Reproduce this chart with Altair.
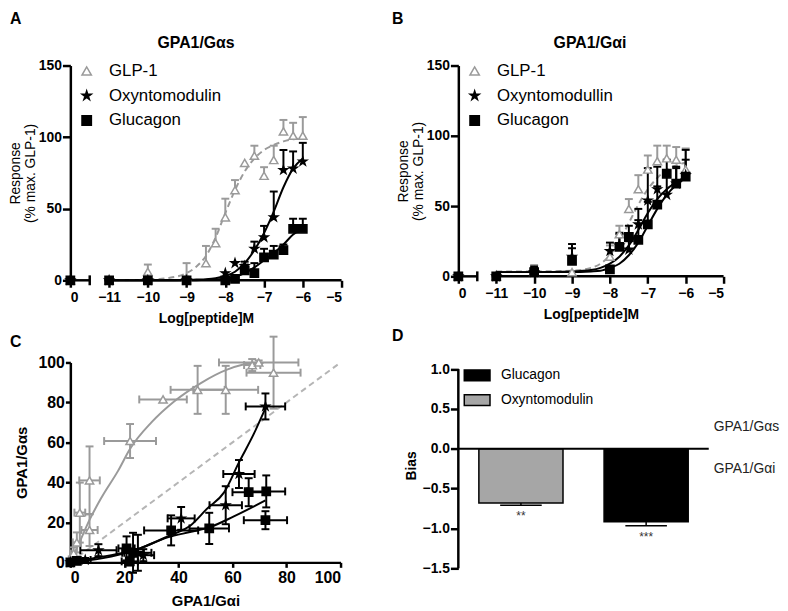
import altair as alt
import pandas as pd

FONT = "Liberation Sans"
LGRAY = "#9a9a9a"
STAR = "M0,-1L0.2245,-0.309L0.951,-0.309L0.363,0.118L0.588,0.809L0,0.382L-0.588,0.809L-0.363,0.118L-0.951,-0.309L-0.2245,-0.309Z"
RECT = "M-1,-0.42H1V0.42H-1Z"

# ---------------- Panel A : GPA1/Gαs (x = log[peptide], 0 = vehicle) ----------------
a_peps = ["GLP-1", "Oxyntomodulin", "Glucagon"]
a_glp_x = [0, -11, -10, -9, -8.5, -8.25, -8, -7.75, -7.5, -7.25, -7, -6.75, -6.5, -6.25, -6]
a_glp_y = [0, 0, 6, 2, 12, 26, 44, 63, 82, 87, 73, 84, 104, 101, 101]
a_glp_e = [0, 0, 5, 10, 12, 10, 13, 7, 0, 7, 6, 10, 8, 9, 13]
a_oxm_x = [0, -11, -10, -9, -8, -7.75, -7.5, -7.25, -7, -6.75, -6.5, -6.25, -6]
a_oxm_y = [0, 0, 0, 0, 5, 12, 10, 22, 30, 44, 77, 78, 83]
a_oxm_e = [0, 0, 0, 0, 0, 0, 3, 5, 8, 18, 14, 12, 13]
a_gcg_x = [0, -11, -10, -9, -8, -7.75, -7.5, -7.25, -7, -6.75, -6.5, -6.25, -6]
a_gcg_y = [0, 0, 0, 0, 0, 1, 7, 5, 16, 18, 21, 36, 36]
a_gcg_e = [0, 0, 0, 0, 0, 0, 4, 7, 6, 6, 4, 7, 7]
a_fit_x = [-11, -10.5, -10, -9.5, -9, -8.75, -8.5, -8.25, -8, -7.75, -7.5, -7.25, -7, -6.75, -6.5, -6.25, -6]
a_fit_glp = [0, 0.1, 0.4, 1.5, 5, 9.5, 17, 30, 47, 63, 76, 85, 91, 94.5, 97, 98.5, 99]
a_fit_oxm = [0, 0, 0, 0, 0.2, 0.5, 0.8, 1.5, 3, 6, 12, 21, 33, 48, 65, 78, 85]
a_fit_gcg = [0, 0, 0, 0, 0, 0.1, 0.3, 0.6, 1.2, 2.5, 5, 9, 14, 19, 25, 32, 36]

# ---------------- Panel B : GPA1/Gαi ----------------
b_peps = ["GLP-1", "Oxyntomodullin", "Glucagon"]
b_x = [0, -11, -10, -9, -8, -7.75, -7.5, -7.25, -7, -6.75, -6.5, -6.25, -6]
b_glp_y = [0, 0, 3, 3, 14, 30, 48, 62, 76, 82, 84, 83, 76]
b_glp_e = [0, 1, 5, 0, 8, 6, 7, 10, 10, 11, 9, 9, 15]
b_oxm_y = [0, 0, 3, 14, 18, 22, 19, 37, 54, 62, 58, 66, 72]
b_oxm_e = [0, 0, 4, 6, 6, 8, 6, 11, 23, 16, 17, 11, 18]
b_gcg_y = [0, 0, 3, 11, 5, 21, 28, 26, 37, 51, 73, 66, 71]
b_gcg_e = [0, 0, 3, 12, 0, 10, 8, 14, 16, 13, 10, 12, 12]
b_fit_x = [-11, -10, -9, -8.5, -8.25, -8, -7.75, -7.5, -7.25, -7, -6.75, -6.5, -6.25, -6]
b_fit_glp = [3.5, 3.5, 4, 6, 9, 15, 25, 38, 51, 62, 70, 76, 79, 81]
b_fit_oxm = [3, 3, 3.5, 4.5, 6, 9, 14, 22, 33, 45, 55, 62, 67, 71]
b_fit_gcg = [3, 3, 3, 3.5, 4, 6, 9, 15, 24, 36, 48, 58, 65, 70]

# ---------------- Panel C : Gαs vs Gαi ----------------
c_glp_x = [0.5, 1.2, 2.4, 3.5, 7.1, 7.1, 22.1, 34.3, 47.1, 57.5, 67.3, 69.7, 75.2]
c_glp_xe = [1, 1, 1.5, 2, 3.8, 3, 9.6, 8.8, 10, 12, 3, 14.7, 10]
c_glp_y = [1, 4.5, 10, 24.9, 41, 16.2, 60.7, 81.5, 86.3, 86.3, 98.7, 100, 94.9]
c_glp_ye = [2, 3, 5, 15, 17, 8, 8.5, 0, 12, 12, 3, 1, 18]
c_oxm_x = [0, 5.5, 10.4, 25, 27, 41, 57.5, 62.4, 72.2]
c_oxm_xe = [0, 2, 6.7, 5, 4, 5, 6, 5.8, 7.3]
c_oxm_y = [0, 1.2, 6.1, 4.8, 3.6, 22, 28.6, 44.2, 78]
c_oxm_ye = [0, 1, 3, 9, 3, 5.7, 9.5, 7, 6.5]
c_gcg_x = [0, 2.4, 20.8, 22, 23.2, 37.3, 51.4, 66, 72.5, 72.2]
c_gcg_xe = [0, 1, 3, 3, 4, 10, 7.3, 6, 7, 8]
c_gcg_y = [0, 0.7, 7, 0.5, 4.8, 16, 17, 35.1, 35.5, 21.1]
c_gcg_ye = [0, 1, 6, 2, 10, 7.5, 7.8, 7, 8, 4.5]
c_fit_glp_x = [0, 3.7, 7, 11.6, 17.7, 22, 30, 38.5, 48.3, 58, 67.8, 71.5]
c_fit_glp_y = [0, 11, 21, 32.6, 45.9, 56.6, 70, 80.6, 89.7, 96.4, 99.7, 99.7]
c_fit_oxm_x = [0, 11.6, 23.8, 36, 44.7, 50.7, 56.9, 62.4, 67.8, 72.5]
c_fit_oxm_y = [0, 2, 6, 13, 18.7, 27, 35, 50, 64, 78]
c_fit_gcg_x = [0, 11.6, 23.8, 36, 44.7, 51.4, 60.5, 72.2]
c_fit_gcg_y = [0, 2.8, 6.1, 12.5, 15.3, 17.5, 23, 31]
c_diag = [0, 100]

# ---------------- Panel D : bias ----------------
d_peps = ["Oxyntomodulin", "Glucagon"]
d_bias = [-0.68, -0.915]
d_err = [0.03, 0.05]
d_sig = ["**", "***"]

LBL = dict(labelFont=FONT, titleFont=FONT, labelColor="black", titleColor="black",
           domainColor="black", domainWidth=2.5, tickColor="black", tickWidth=2.5, grid=False)


def label(t, x, y, size=16, align="left"):
    return alt.Chart(pd.DataFrame({"t": [t]})).mark_text(
        font=FONT, fontSize=size, fontWeight="bold", align=align, baseline="middle", color="black"
    ).encode(text="t:N", x=alt.value(x), y=alt.value(y))


def dose_panel(peps, series, fit_x, fits, title, let, w, h, tx, lx):
    rows = []
    for p, (xs, ys, es) in zip(peps, series):
        for xv, yv, ev in zip(xs, ys, es):
            rows.append({"pep": p, "x": xv, "y": yv, "e": ev, "hi": yv + ev})
    pts = pd.DataFrame(rows)
    frows = []
    for p, fy in zip(peps, fits):
        for xv, yv in zip(fit_x, fy):
            frows.append({"pep": p, "x": xv, "y": yv})
    fdf = pd.DataFrame(frows)

    xs = alt.Scale(domain=[-12, -5], nice=False, zero=False)
    ys = alt.Scale(domain=[0, 150], nice=False)
    xax = alt.Axis(values=list(range(-12, -4)), labelExpr="datum.value == -12 ? '0' : datum.label",
                   domain=False, title="Log[peptide]M", titleFontSize=14, titleFontWeight="bold",
                   labelFontSize=14, labelFontWeight="bold", tickSize=7, labelPadding=3, titlePadding=8, **LBL)
    yax = alt.Axis(values=[0, 50, 100, 150], title=["Response", "(% max. GLP-1)"], titleFontSize=14,
                   titleLineHeight=15, titleFontWeight="normal", labelFontSize=14, labelFontWeight="bold",
                   tickSize=8, labelPadding=1, titlePadding=1, **LBL)

    def X(f):
        return alt.X(f, type="quantitative", scale=xs, axis=xax)

    def Y(f):
        return alt.Y(f, type="quantitative", scale=ys, axis=yax)

    calc = "datum.x == 0 ? -12 : datum.x"
    axl = alt.Chart(pd.DataFrame({"x0": [-12, -11.12], "x1": [-11.5, -5], "y0": [0, 0]})).mark_rule(
        strokeWidth=2.5, color="black").encode(x=X("x0"), x2="x1", y=Y("y0"))
    brk = alt.Chart(pd.DataFrame({"x0": [-11.5], "y0": [0]})).mark_rule(
        strokeWidth=2.5, color="black", yOffset=-5, y2Offset=5).encode(x=X("x0"), y=Y("y0"), y2="y0")

    f1 = alt.Chart(fdf[fdf.pep == peps[0]]).mark_line(
        color=LGRAY, strokeDash=[6, 4], strokeWidth=2, interpolate="monotone").encode(x=X("x"), y=Y("y"))
    f2 = alt.Chart(fdf[fdf.pep != peps[0]]).mark_line(
        color="black", strokeWidth=2, interpolate="monotone").encode(x=X("x"), y=Y("y"), detail="pep:N")

    eb = pts[pts.e > 0]
    layers = [axl, brk, f1, f2]
    for sel, col in ((eb[eb.pep == peps[0]], LGRAY), (eb[eb.pep != peps[0]], "black")):
        layers.append(alt.Chart(sel).transform_calculate(xp=calc).mark_rule(color=col, strokeWidth=2).encode(
            x=X("xp"), y=Y("y"), y2="hi"))
        layers.append(alt.Chart(sel).transform_calculate(xp=calc).mark_rule(
            color=col, strokeWidth=2, xOffset=-4, x2Offset=4).encode(x=X("xp"), x2="xp", y=Y("hi")))

    leg = alt.Legend(title=None, orient="none", legendX=lx, legendY=-3, direction="vertical",
                     labelFont=FONT, labelFontSize=17, labelColor="black", symbolSize=90,
                     symbolStrokeWidth=1.5, rowPadding=7, labelOffset=14, padding=0)
    pt = alt.Chart(pts).transform_calculate(xp=calc).mark_point(opacity=1, strokeWidth=1.5, size=70).encode(
        x=X("xp"), y=Y("y"),
        shape=alt.Shape("pep:N", scale=alt.Scale(domain=peps, range=["triangle-up", STAR, "square"]), legend=leg),
        fill=alt.Fill("pep:N", scale=alt.Scale(domain=peps, range=["white", "black", "black"]), legend=leg),
        stroke=alt.Stroke("pep:N", scale=alt.Scale(domain=peps, range=[LGRAY, "black", "black"]), legend=leg),
    )
    layers += [pt, label(let[0], let[1], let[2]), label(title, tx, -23, 16, "center")]
    return alt.layer(*layers).properties(width=w, height=h)


A = dose_panel(a_peps, [(a_glp_x, a_glp_y, a_glp_e), (a_oxm_x, a_oxm_y, a_oxm_e), (a_gcg_x, a_gcg_y, a_gcg_e)],
               a_fit_x, [a_fit_glp, a_fit_oxm, a_fit_gcg], "GPA1/Gαs", ("A", -61, -47), 274, 217, 127, 8)
B = dose_panel(b_peps, [(b_x, b_glp_y, b_glp_e), (b_x, b_oxm_y, b_oxm_e), (b_x, b_gcg_y, b_gcg_e)],
               b_fit_x, [b_fit_glp, b_fit_oxm, b_fit_gcg], "GPA1/Gαi", ("B", -67, -47), 268, 213, 133, 8)

# ---------------- Panel C ----------------
crows = []
for p, xs_, xe_, ys_, ye_ in (("GLP-1", c_glp_x, c_glp_xe, c_glp_y, c_glp_ye),
                              ("Oxyntomodulin", c_oxm_x, c_oxm_xe, c_oxm_y, c_oxm_ye),
                              ("Glucagon", c_gcg_x, c_gcg_xe, c_gcg_y, c_gcg_ye)):
    for a, b, c, d in zip(xs_, xe_, ys_, ye_):
        crows.append({"pep": p, "x": a, "y": c, "xlo": a - b, "xhi": a + b, "ylo": c - d, "yhi": c + d,
                      "xe": b, "ye": d})
cdf = pd.DataFrame(crows)
cfit = pd.DataFrame(
    [{"pep": "GLP-1", "x": a, "y": b} for a, b in zip(c_fit_glp_x, c_fit_glp_y)]
    + [{"pep": "Oxyntomodulin", "x": a, "y": b} for a, b in zip(c_fit_oxm_x, c_fit_oxm_y)]
    + [{"pep": "Glucagon", "x": a, "y": b} for a, b in zip(c_fit_gcg_x, c_fit_gcg_y)])

cxs = alt.Scale(domain=[0, 100], nice=False)
cys = alt.Scale(domain=[0, 100], nice=False)
cxax = alt.Axis(values=[0, 20, 40, 60, 80, 100], title="GPA1/Gαi", titleFontSize=15, titleFontWeight="bold",
                labelFontSize=16, labelFontWeight="bold", tickSize=5, labelPadding=2, titlePadding=9, **LBL)
cyax = alt.Axis(values=[0, 20, 40, 60, 80, 100], title="GPA1/Gαs", titleFontSize=15, titleFontWeight="bold",
                labelFontSize=16, labelFontWeight="bold", tickSize=5, labelPadding=1, titlePadding=9, **LBL)


def CX(f):
    return alt.X(f, type="quantitative", scale=cxs, axis=cxax)


def CY(f):
    return alt.Y(f, type="quantitative", scale=cys, axis=cyax)


c_layers = [
    alt.Chart(pd.DataFrame({"x": c_diag, "y": c_diag})).mark_line(
        color="#b5b5b5", strokeDash=[6, 4], strokeWidth=2).encode(x=CX("x"), y=CY("y")),
    alt.Chart(cfit[cfit.pep == "GLP-1"]).mark_line(color=LGRAY, strokeWidth=2, interpolate="monotone").encode(
        x=CX("x"), y=CY("y")),
    alt.Chart(cfit[cfit.pep != "GLP-1"]).mark_line(color="black", strokeWidth=2, interpolate="monotone").encode(
        x=CX("x"), y=CY("y"), detail="pep:N"),
]
for sel, col in ((cdf[cdf.pep == "GLP-1"], LGRAY), (cdf[cdf.pep != "GLP-1"], "black")):
    sx = sel[sel.xe > 0]
    sy = sel[sel.ye > 0]
    c_layers += [
        alt.Chart(sx).mark_rule(color=col, strokeWidth=2).encode(x=CX("xlo"), x2="xhi", y=CY("y")),
        alt.Chart(sx).mark_rule(color=col, strokeWidth=2, yOffset=-4, y2Offset=4).encode(x=CX("xlo"), y=CY("y"), y2="y"),
        alt.Chart(sx).mark_rule(color=col, strokeWidth=2, yOffset=-4, y2Offset=4).encode(x=CX("xhi"), y=CY("y"), y2="y"),
        alt.Chart(sy).mark_rule(color=col, strokeWidth=2).encode(x=CX("x"), y=CY("ylo"), y2="yhi"),
        alt.Chart(sy).mark_rule(color=col, strokeWidth=2, xOffset=-4, x2Offset=4).encode(x=CX("x"), x2="x", y=CY("ylo")),
        alt.Chart(sy).mark_rule(color=col, strokeWidth=2, xOffset=-4, x2Offset=4).encode(x=CX("x"), x2="x", y=CY("yhi")),
    ]
c_layers.append(alt.Chart(cdf).mark_point(opacity=1, strokeWidth=1.5, size=70).encode(
    x=CX("x"), y=CY("y"),
    shape=alt.Shape("pep:N", scale=alt.Scale(domain=a_peps, range=["triangle-up", STAR, "square"]), legend=None),
    fill=alt.Fill("pep:N", scale=alt.Scale(domain=a_peps, range=["white", "black", "black"]), legend=None),
    stroke=alt.Stroke("pep:N", scale=alt.Scale(domain=a_peps, range=[LGRAY, "black", "black"]), legend=None),
))
c_layers.append(label("C", -61, -21))
C = alt.layer(*c_layers).properties(width=273, height=202)

# ---------------- Panel D ----------------
ddf = pd.DataFrame({"pep": d_peps, "bias": d_bias, "err": d_err, "sig": d_sig})
ddf["lo"] = ddf["bias"] - ddf["err"]
ddf["zero"] = 0.0
dxs = alt.Scale(domain=d_peps, paddingInner=0.328, paddingOuter=0.164)
dys = alt.Scale(domain=[-1.5, 1.083], nice=False, zero=False)
dyax = alt.Axis(values=[1, 0.5, 0, -0.5, -1, -1.5], format=".1f", domain=False, title="Bias", titleFontSize=14,
                titleFontWeight="bold", labelFontSize=14, labelFontWeight="bold", tickSize=8, labelPadding=1,
                titlePadding=4, **LBL)


def DX():
    return alt.X("pep:N", scale=dxs, axis=None, sort=d_peps)


def DY(f):
    return alt.Y(f, type="quantitative", scale=dys, axis=dyax)


dleg = alt.Legend(title=None, orient="none", legendX=5, legendY=-1, direction="vertical", labelFont=FONT,
                  labelFontSize=14, labelColor="black", symbolType=RECT, symbolSize=676, symbolStrokeColor="black",
                  symbolStrokeWidth=1.5, symbolOpacity=1, rowPadding=2, labelOffset=10, padding=0)
D = alt.layer(
    alt.Chart(pd.DataFrame({"lo": [-1.5], "hi": [1.0]})).mark_rule(strokeWidth=2.5, color="black").encode(
        x=alt.value(0), y=DY("lo"), y2="hi"),
    alt.Chart(ddf).mark_bar(stroke="black", strokeWidth=1.5).encode(
        x=DX(), y=DY("bias"), y2="zero",
        fill=alt.Fill("pep:N", scale=alt.Scale(domain=["Glucagon", "Oxyntomodulin"], range=["black", "#a6a6a6"]),
                      legend=dleg)),
    alt.Chart(ddf).mark_rule(strokeWidth=1.5, color="black").encode(x=DX(), y=DY("bias"), y2="lo"),
    alt.Chart(ddf).mark_tick(size=42, thickness=1.5, color="black", opacity=1).encode(x=DX(), y=DY("lo")),
    alt.Chart(ddf).mark_text(dy=11, fontSize=12, font=FONT, color="#333").encode(x=DX(), y=DY("lo"), text="sig:N"),
    alt.Chart(pd.DataFrame({"z": [0.0]})).mark_rule(strokeWidth=2, color="black").encode(y=DY("z")),
    alt.Chart(pd.DataFrame({"t": ["GPA1/Gαs", "GPA1/Gαi"], "v": [0.27, -0.25]})).mark_text(
        align="left", baseline="middle", fontSize=14, font=FONT, color="#222").encode(
        x=alt.value(258), y=DY("v"), text="t:N"),
    label("D", -67, -27),
).properties(width=253, height=208)

chart = alt.concat(A, B, C, D, columns=2, spacing={"row": 83, "column": 118}, bounds="flush").resolve_scale(
    shape="independent", fill="independent", stroke="independent").resolve_legend(
    shape="independent", fill="independent", stroke="independent").properties(padding=0).configure(
    font=FONT).configure_view(stroke=None)

chart.save("out.html", embed_options={"renderer": "svg", "actions": False})
